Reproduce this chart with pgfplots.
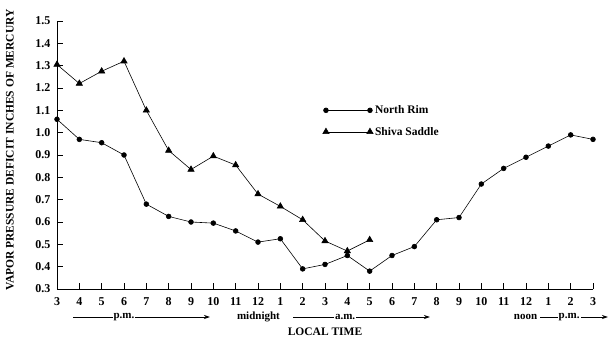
\documentclass[border=0pt]{standalone}
\usepackage{fontspec}
\setmainfont{Liberation Serif}
\usepackage{pgfplots}
\pgfplotsset{compat=1.18}
\usetikzlibrary{arrows.meta}
\begin{document}
\begin{tikzpicture}
\begin{axis}[
  scale only axis, width=536pt, height=268pt,
  xmin=0, xmax=24, ymin=0.3, ymax=1.5,
  axis x line=bottom, axis y line=left,
  axis line style={-, line width=0.7pt},
  tick align=inside, major tick length=6pt,
  tick style={line width=0.7pt, black},
  xtick={0,...,24},
  xticklabels={3,4,5,6,7,8,9,10,11,12,1,2,3,4,5,6,7,8,9,10,11,12,1,2,3},
  ytick={0.3,0.4,...,1.51},
  /pgf/number format/assume math mode=true,
  yticklabel style={/pgf/number format/fixed, /pgf/number format/fixed zerofill, /pgf/number format/precision=1, xshift=-3pt},
  xticklabel style={yshift=-5pt},
  ticklabel style={font=\fontsize{12}{14}\selectfont\bfseries},
  clip=false,
  xlabel={LOCAL TIME},
  xlabel style={at={(rel axis cs:0.5,0)}, anchor=center, yshift=-43pt, font=\fontsize{11.5}{13}\selectfont\bfseries},
  legend style={at={(rel axis cs:0.49,0.70)}, anchor=north west, draw=none, fill=none, font=\fontsize{11.5}{13}\selectfont\bfseries, row sep=8pt},
  legend cell align=left,
  legend image code/.code={\draw plot coordinates {(0pt,0pt)(44pt,0pt)};},
]
\coordinate (ll) at (rel axis cs:0,0);
\coordinate (ur) at (rel axis cs:1,1);
\addplot[black, line width=0.6pt, mark=*, mark size=2.4pt] coordinates {
(0,1.06)(1,0.97)(2,0.955)(3,0.90)(4,0.68)(5,0.625)(6,0.60)(7,0.595)(8,0.56)(9,0.51)(10,0.525)(11,0.39)(12,0.41)(13,0.45)(14,0.38)(15,0.45)(16,0.49)(17,0.61)(18,0.62)(19,0.77)(20,0.84)(21,0.89)(22,0.94)(23,0.99)(24,0.97)};
\addlegendentry{North Rim}
\addplot[black, line width=0.6pt, mark=triangle*, mark size=3.6pt] coordinates {
(0,1.305)(1,1.22)(2,1.275)(3,1.32)(4,1.10)(5,0.92)(6,0.835)(7,0.895)(8,0.855)(9,0.725)(10,0.67)(11,0.61)(12,0.515)(13,0.47)(14,0.52)};
\addlegendentry{Shiva Saddle}
\node[rotate=90, anchor=center, font=\fontsize{11.5}{13}\selectfont\bfseries] at ([xshift=-47pt,yshift=5pt]rel axis cs:0,0.5) {VAPOR PRESSURE DEFICIT INCHES OF MERCURY};
\draw[line width=0.7pt, -{Stealth[length=6pt,width=4pt]}] ([yshift=-28pt]axis cs:0.72,0.3) -- ([yshift=-28pt]axis cs:6.85,0.3);
\node[fill=white, inner sep=1pt, font=\fontsize{11}{12}\selectfont\bfseries] at ([yshift=-28pt]axis cs:3.0,0.3) {p.m.};
\node[font=\fontsize{11}{12}\selectfont\bfseries] at ([yshift=-28pt]axis cs:9.02,0.3) {midnight};
\draw[line width=0.7pt, -{Stealth[length=6pt,width=4pt]}] ([yshift=-28pt]axis cs:10.57,0.3) -- ([yshift=-28pt]axis cs:16.7,0.3);
\node[fill=white, inner sep=1pt, font=\fontsize{11}{12}\selectfont\bfseries] at ([yshift=-28pt]axis cs:12.9,0.3) {a.m.};
\node[font=\fontsize{11}{12}\selectfont\bfseries] at ([yshift=-28pt]axis cs:20.98,0.3) {noon};
\draw[line width=0.7pt, -{Stealth[length=6pt,width=4pt]}] ([yshift=-28pt]axis cs:21.63,0.3) -- ([yshift=-28pt]axis cs:24.67,0.3);
\node[fill=white, inner sep=1pt, font=\fontsize{11}{12}\selectfont\bfseries] at ([yshift=-28pt]axis cs:22.93,0.3) {p.m.};
\end{axis}
\pgfresetboundingbox
\path ([xshift=-57pt,yshift=-48pt]ll) rectangle ([xshift=18pt,yshift=21pt]ur);
\end{tikzpicture}
\end{document}
